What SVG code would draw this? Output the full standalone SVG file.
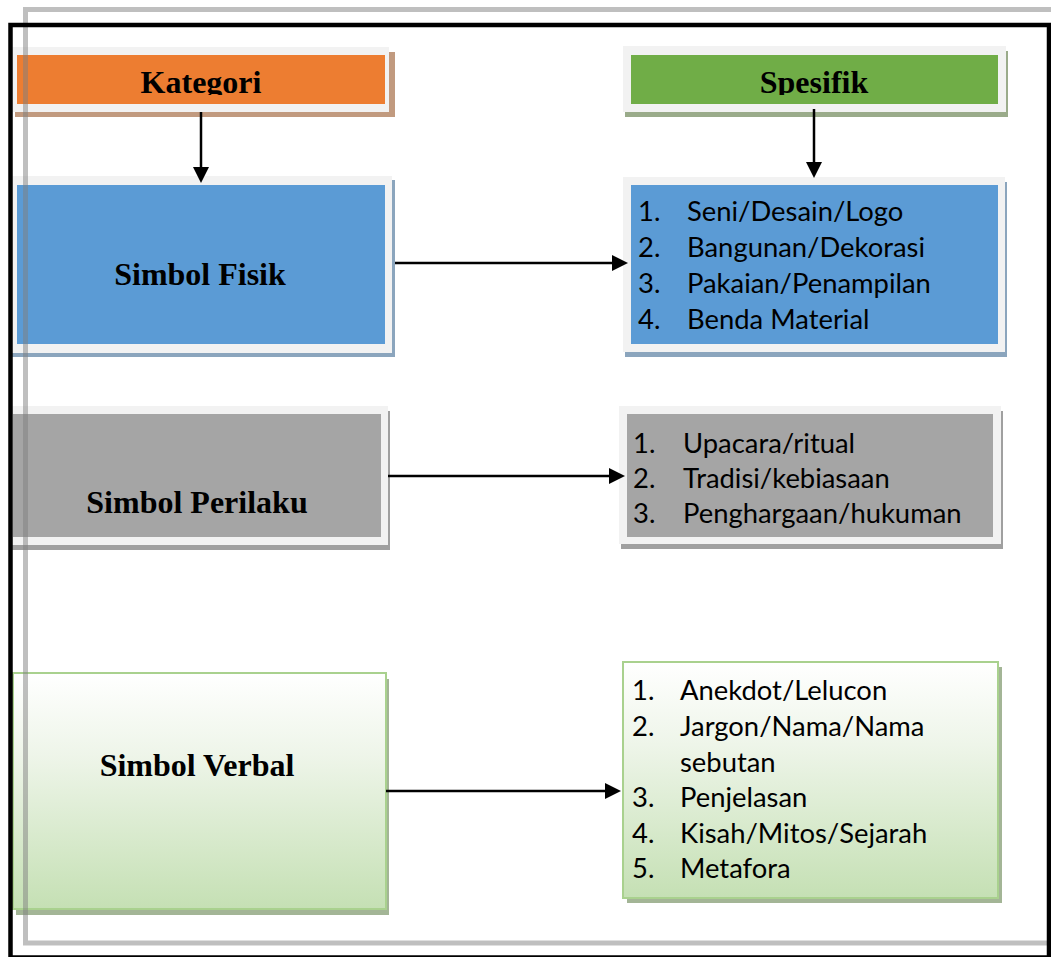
<svg xmlns="http://www.w3.org/2000/svg" width="1051" height="957" viewBox="0 0 1051 957">
<defs>
<style>
.frameW{fill:#f2f2f2}
.hdr{font-family:"Liberation Serif","Times New Roman",serif;font-weight:bold;font-size:32px;fill:#000;text-anchor:middle}
.lst{font-family:Lato,"Noto Sans",sans-serif;font-size:27.4px;fill:#000}
.conn{stroke:#000;stroke-width:2.5;fill:none}
</style>
<marker id="ah" markerUnits="userSpaceOnUse" markerWidth="16" markerHeight="16" refX="0" refY="8" orient="auto">
<path d="M0,0 L16,8 L0,16 z" fill="#000"/>
</marker>
<linearGradient id="gv" x1="0" y1="0" x2="0" y2="1">
<stop offset="0" stop-color="#ffffff"/>
<stop offset="0.35" stop-color="#eef5e9"/>
<stop offset="1" stop-color="#c5e0b4"/>
</linearGradient>
<clipPath id="clipK"><rect x="0" y="55" width="1051" height="40"/></clipPath>
</defs>
<rect width="1051" height="957" fill="#fff"/>

<g id="kategori">
<rect x="15" y="52" width="380" height="65" fill="#c19a7f"/>
<rect class="frameW" x="9" y="47" width="380" height="65"/>
<rect x="17" y="55" width="368" height="49" fill="#ed7d31"/>
<text class="hdr" x="201" y="93" clip-path="url(#clipK)">Kategori</text>
</g>

<g id="spesifik">
<rect x="625" y="51" width="383" height="66" fill="#9aab8a"/>
<rect class="frameW" x="623" y="46" width="383" height="66"/>
<rect x="631" y="55" width="367" height="49" fill="#70ad47"/>
<text class="hdr" x="814" y="93" clip-path="url(#clipK)">Spesifik</text>
</g>

<g id="simbol-fisik">
<rect x="12" y="180" width="383" height="177" fill="#8ba5bd"/>
<rect class="frameW" x="9" y="176" width="383" height="177"/>
<rect x="17" y="185" width="368" height="159" fill="#5b9bd5"/>
<text class="hdr" x="200" y="285">Simbol Fisik</text>
</g>

<g id="spesifik-fisik">
<rect x="625" y="182" width="382" height="175" fill="#8ba5bd"/>
<rect class="frameW" x="623" y="177" width="382" height="175"/>
<rect x="631" y="185" width="367" height="159" fill="#5b9bd5"/>
<text class="lst" y="221"><tspan x="638">1.</tspan><tspan x="687">Seni/Desain/Logo</tspan></text>
<text class="lst" y="257"><tspan x="638">2.</tspan><tspan x="687">Bangunan/Dekorasi</tspan></text>
<text class="lst" y="293"><tspan x="638">3.</tspan><tspan x="687">Pakaian/Penampilan</tspan></text>
<text class="lst" y="329"><tspan x="638">4.</tspan><tspan x="687">Benda Material</tspan></text>
</g>

<g id="simbol-perilaku">
<rect x="11" y="411" width="379" height="139" fill="#a0a0a0"/>
<rect class="frameW" x="9" y="406" width="379" height="139"/>
<rect x="13" y="414" width="368" height="123" fill="#a5a5a5"/>
<text class="hdr" x="197" y="513">Simbol Perilaku</text>
</g>

<g id="spesifik-perilaku">
<rect x="621" y="411" width="382" height="138" fill="#a0a0a0"/>
<rect class="frameW" x="619" y="406" width="382" height="138"/>
<rect x="627" y="414" width="366" height="123" fill="#a5a5a5"/>
<text class="lst" y="453"><tspan x="633">1.</tspan><tspan x="683">Upacara/ritual</tspan></text>
<text class="lst" y="488"><tspan x="633">2.</tspan><tspan x="683">Tradisi/kebiasaan</tspan></text>
<text class="lst" y="523"><tspan x="633">3.</tspan><tspan x="683">Penghargaan/hukuman</tspan></text>
</g>

<g id="simbol-verbal">
<rect x="16" y="679" width="373" height="236" fill="#a3b596"/>
<rect x="13" y="673" width="373" height="236" fill="url(#gv)" stroke="#a9d18e" stroke-width="2"/>
<text class="hdr" x="197" y="776">Simbol Verbal</text>
</g>

<g id="spesifik-verbal">
<rect x="627" y="667" width="375" height="236" fill="#a3b596"/>
<rect x="623" y="662" width="375" height="236" fill="url(#gv)" stroke="#a9d18e" stroke-width="2"/>
<text class="lst" y="700"><tspan x="632">1.</tspan><tspan x="680">Anekdot/Lelucon</tspan></text>
<text class="lst" y="736"><tspan x="632">2.</tspan><tspan x="680">Jargon/Nama/Nama</tspan></text>
<text class="lst" y="772"><tspan x="680">sebutan</tspan></text>
<text class="lst" y="807"><tspan x="632">3.</tspan><tspan x="680">Penjelasan</tspan></text>
<text class="lst" y="843"><tspan x="632">4.</tspan><tspan x="680">Kisah/Mitos/Sejarah</tspan></text>
<text class="lst" y="878"><tspan x="632">5.</tspan><tspan x="680">Metafora</tspan></text>
</g>

<g id="connectors">
<line class="conn" x1="201" y1="112" x2="201" y2="167" marker-end="url(#ah)"/>
<line class="conn" x1="814" y1="109" x2="814" y2="162" marker-end="url(#ah)"/>
<line class="conn" x1="395" y1="263" x2="612" y2="263" marker-end="url(#ah)"/>
<line class="conn" x1="388" y1="476" x2="609" y2="476" marker-end="url(#ah)"/>
<line class="conn" x1="386" y1="791" x2="605" y2="791" marker-end="url(#ah)"/>
</g>

<g id="page-border">
<rect x="25.5" y="9.5" width="1100" height="933.5" fill="none" stroke="#808080" stroke-opacity="0.5" stroke-width="5"/>
<rect x="10.5" y="25" width="1038.5" height="932.5" fill="none" stroke="#000" stroke-width="4.5"/>
</g>
</svg>
